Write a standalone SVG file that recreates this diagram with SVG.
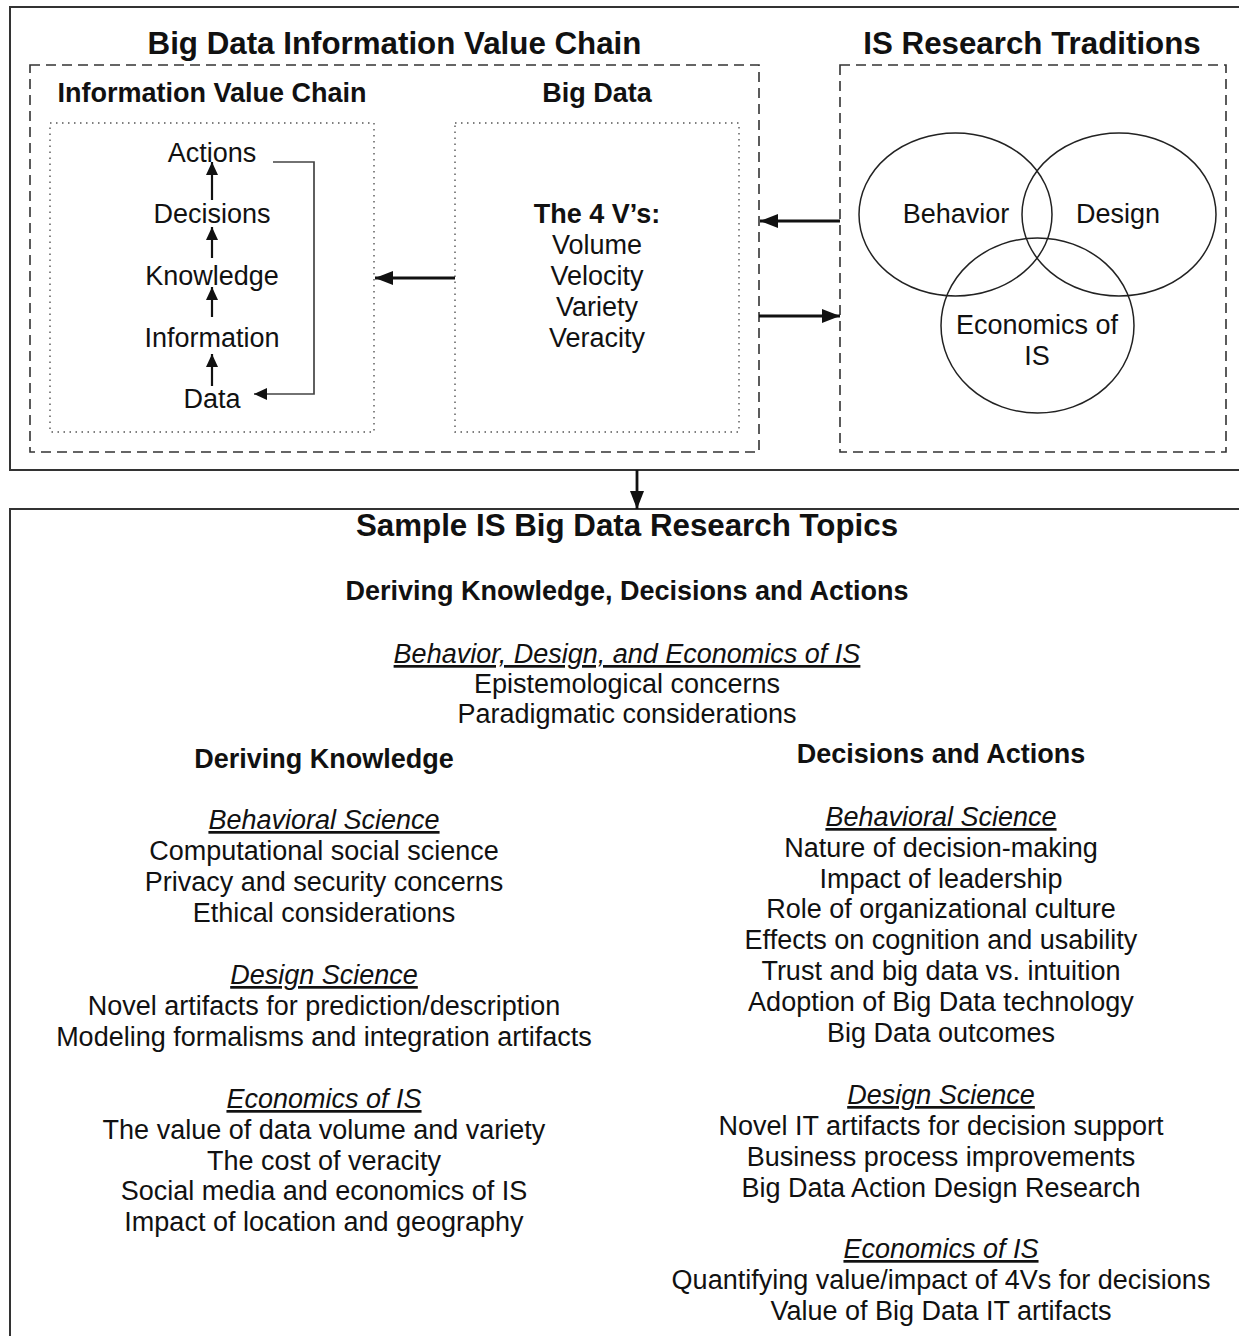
<svg xmlns="http://www.w3.org/2000/svg" width="1239" height="1336" viewBox="0 0 1239 1336">
<style>
text{font-family:"Liberation Sans",Arial,sans-serif;fill:#111;text-anchor:middle}
.t{font-size:31.3px;font-weight:bold}
.h{font-size:27px;font-weight:bold}
.r{font-size:27px}
.u{font-size:27px;font-style:italic;text-decoration:underline}
.solid{fill:none;stroke:#333;stroke-width:2}
.dash{fill:none;stroke:#333;stroke-width:1.6;stroke-dasharray:10 6}
.dot{fill:none;stroke:#555;stroke-width:1.4;stroke-dasharray:1.5 4.5}
.venn{fill:none;stroke:#222;stroke-width:1.5}
.arr{fill:none;stroke:#111;stroke-width:2.8}
.arrs{fill:none;stroke:#111;stroke-width:2.2}
.ret{fill:none;stroke:#444;stroke-width:1.7}
</style>
<defs>
<marker id="ah" viewBox="0 0 18 14" refX="18" refY="7" markerWidth="18" markerHeight="14" markerUnits="userSpaceOnUse" orient="auto">
<path d="M0,0 L18,7 L0,14 z" fill="#111"/>
</marker>
<marker id="ahs" viewBox="0 0 13 12" refX="13" refY="6" markerWidth="13" markerHeight="12" markerUnits="userSpaceOnUse" orient="auto">
<path d="M0,0 L13,6 L0,12 z" fill="#111"/>
</marker>
</defs>
<rect width="1239" height="1336" fill="#fff"/>

<g id="top-frame">
<rect class="solid" x="10" y="7" width="1240" height="463"/>
<text class="t" x="394.5" y="54">Big Data Information Value Chain</text>
<text class="t" x="1032" y="54">IS Research Traditions</text>
</g>

<g id="big-data-ivc-box">
<rect class="dash" x="30" y="65" width="729" height="387"/>
</g>

<g id="information-value-chain">
<text class="h" x="212" y="102">Information Value Chain</text>
<rect class="dot" x="50" y="123" width="324" height="309"/>
<text class="r" x="212" y="162">Actions</text>
<text class="r" x="212" y="223">Decisions</text>
<text class="r" x="212" y="285">Knowledge</text>
<text class="r" x="212" y="347">Information</text>
<text class="r" x="212" y="408">Data</text>
</g>

<g id="big-data">
<text class="h" x="597" y="102">Big Data</text>
<rect class="dot" x="455" y="123" width="284" height="309"/>
<text class="h" x="597" y="223">The 4 V’s:</text>
<text class="r" x="597" y="254">Volume</text>
<text class="r" x="597" y="285">Velocity</text>
<text class="r" x="597" y="316">Variety</text>
<text class="r" x="597" y="347">Veracity</text>
</g>

<g id="is-research-traditions">
<rect class="dash" x="840" y="65" width="386" height="387"/>
<ellipse class="venn" cx="955.5" cy="214.5" rx="96.5" ry="81.5"/>
<ellipse class="venn" cx="1119" cy="214.5" rx="97" ry="81.5"/>
<ellipse class="venn" cx="1037.5" cy="325.5" rx="96.5" ry="87.5"/>
<text class="r" x="956" y="223">Behavior</text>
<text class="r" x="1118" y="223">Design</text>
<text class="r" x="1037" y="334">Economics of</text>
<text class="r" x="1037" y="365">IS</text>
</g>

<g id="research-topics">
<rect class="solid" x="10" y="509" width="1240" height="840"/>
<text class="t" x="627" y="536">Sample IS Big Data Research Topics</text>
<text class="h" x="627" y="600">Deriving Knowledge, Decisions and Actions</text>
<text class="u" x="627" y="663">Behavior, Design, and Economics of IS</text>
<text class="r" x="627" y="693">Epistemological concerns</text>
<text class="r" x="627" y="723">Paradigmatic considerations</text>

<text class="h" x="324" y="768">Deriving Knowledge</text>
<text class="u" x="324" y="829">Behavioral Science</text>
<text class="r" x="324" y="860">Computational social science</text>
<text class="r" x="324" y="891">Privacy and security concerns</text>
<text class="r" x="324" y="922">Ethical considerations</text>
<text class="u" x="324" y="984">Design Science</text>
<text class="r" x="324" y="1015">Novel artifacts for prediction/description</text>
<text class="r" x="324" y="1046">Modeling formalisms and integration artifacts</text>
<text class="u" x="324" y="1108">Economics of IS</text>
<text class="r" x="324" y="1139">The value of data volume and variety</text>
<text class="r" x="324" y="1170">The cost of veracity</text>
<text class="r" x="324" y="1200">Social media and economics of IS</text>
<text class="r" x="324" y="1231">Impact of location and geography</text>

<text class="h" x="941" y="763">Decisions and Actions</text>
<text class="u" x="941" y="826">Behavioral Science</text>
<text class="r" x="941" y="857">Nature of decision-making</text>
<text class="r" x="941" y="888">Impact of leadership</text>
<text class="r" x="941" y="918">Role of organizational culture</text>
<text class="r" x="941" y="949">Effects on cognition and usability</text>
<text class="r" x="941" y="980">Trust and big data vs. intuition</text>
<text class="r" x="941" y="1011">Adoption of Big Data technology</text>
<text class="r" x="941" y="1042">Big Data outcomes</text>
<text class="u" x="941" y="1104">Design Science</text>
<text class="r" x="941" y="1135">Novel IT artifacts for decision support</text>
<text class="r" x="941" y="1166">Business process improvements</text>
<text class="r" x="941" y="1197">Big Data Action Design Research</text>
<text class="u" x="941" y="1258">Economics of IS</text>
<text class="r" x="941" y="1289">Quantifying value/impact of 4Vs for decisions</text>
<text class="r" x="941" y="1320">Value of Big Data IT artifacts</text>
</g>

<g id="connectors">
<line class="arrs" x1="212" y1="200" x2="212" y2="162" marker-end="url(#ahs)"/>
<line class="arrs" x1="212" y1="258" x2="212" y2="227" marker-end="url(#ahs)"/>
<line class="arrs" x1="212" y1="317" x2="212" y2="287" marker-end="url(#ahs)"/>
<line class="arrs" x1="212" y1="386" x2="212" y2="354" marker-end="url(#ahs)"/>
<path class="ret" d="M273,162 H314 V394 H254" marker-end="url(#ahs)"/>
<line class="arr" x1="455" y1="278" x2="375" y2="278" marker-end="url(#ah)"/>
<line class="arr" x1="840" y1="221" x2="760" y2="221" marker-end="url(#ah)"/>
<line class="arr" x1="759" y1="316" x2="840" y2="316" marker-end="url(#ah)"/>
<line class="arr" x1="637" y1="470" x2="637" y2="509" marker-end="url(#ah)"/>
</g>
</svg>
